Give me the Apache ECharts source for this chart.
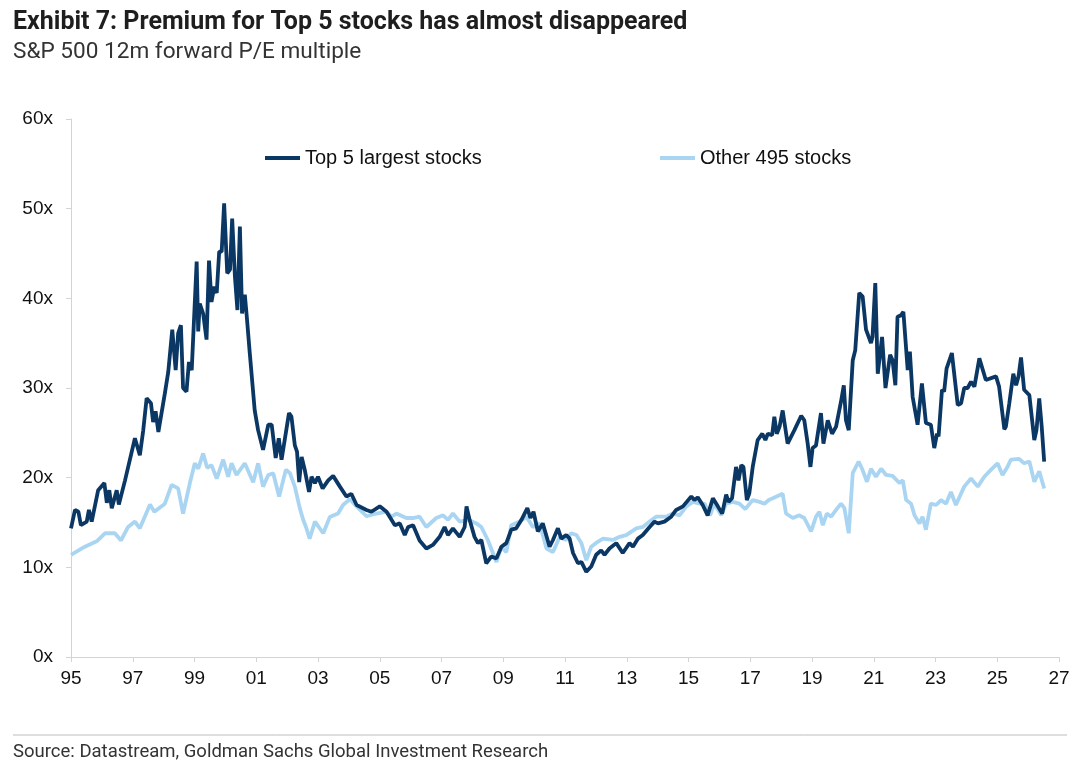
<!DOCTYPE html>
<html>
<head>
<meta charset="utf-8">
<script src="https://cdn.jsdelivr.net/npm/echarts@6/dist/echarts.min.js"></script>
<style>
  html, body { margin: 0; padding: 0; background: #ffffff; }
  #chart { width: 1080px; height: 772px; }
</style>
</head>
<body>
<div id="chart"></div>
<script>
// Dates as decimal years
const top5Dates = [1995.00,1995.13,1995.24,1995.32,1995.51,1995.58,1995.67,1995.88,1996.08,1996.16,1996.24,1996.32,1996.48,1996.55,1996.75,1997.07,1997.23,1997.34,1997.45,1997.59,1997.66,1997.74,1997.83,1998.04,1998.15,1998.28,1998.39,1998.47,1998.56,1998.63,1998.74,1998.82,1998.91,1999.07,1999.12,1999.17,1999.28,1999.39,1999.47,1999.55,1999.64,1999.72,1999.80,1999.88,1999.96,2000.06,2000.15,2000.22,2000.31,2000.39,2000.47,2000.54,2000.63,2000.69,2000.79,2000.95,2001.06,2001.22,2001.39,2001.50,2001.63,2001.73,2001.82,2002.06,2002.14,2002.25,2002.32,2002.39,2002.47,2002.57,2002.63,2002.71,2002.79,2002.90,2003.00,2003.15,2003.33,2003.49,2003.71,2003.92,2004.08,2004.25,2004.57,2004.73,2005.00,2005.22,2005.49,2005.65,2005.81,2005.92,2006.08,2006.29,2006.51,2006.72,2006.94,2007.10,2007.21,2007.37,2007.59,2007.75,2007.81,2007.91,2008.07,2008.18,2008.29,2008.45,2008.61,2008.78,2008.94,2009.10,2009.26,2009.42,2009.59,2009.78,2009.88,2009.98,2010.12,2010.28,2010.50,2010.61,2010.77,2010.88,2011.04,2011.15,2011.26,2011.42,2011.53,2011.69,2011.85,2012.01,2012.17,2012.28,2012.44,2012.66,2012.87,2013.09,2013.20,2013.36,2013.52,2013.74,2013.90,2014.01,2014.22,2014.44,2014.60,2014.82,2015.09,2015.19,2015.30,2015.46,2015.62,2015.79,2015.95,2016.09,2016.22,2016.30,2016.41,2016.54,2016.62,2016.71,2016.78,2016.89,2016.97,2017.08,2017.24,2017.39,2017.49,2017.57,2017.71,2017.78,2017.86,2017.95,2018.05,2018.21,2018.43,2018.65,2018.75,2018.86,2018.95,2019.02,2019.13,2019.29,2019.37,2019.51,2019.65,2019.78,2019.94,2020.03,2020.10,2020.19,2020.32,2020.40,2020.53,2020.64,2020.75,2020.91,2020.96,2021.05,2021.13,2021.27,2021.38,2021.53,2021.61,2021.70,2021.77,2021.88,2021.96,2022.10,2022.17,2022.26,2022.42,2022.56,2022.69,2022.85,2022.96,2023.05,2023.10,2023.21,2023.28,2023.36,2023.53,2023.72,2023.83,2023.93,2024.04,2024.15,2024.26,2024.42,2024.63,2024.96,2025.06,2025.23,2025.28,2025.39,2025.52,2025.61,2025.69,2025.77,2025.87,2026.04,2026.20,2026.27,2026.36,2026.44,2026.52];
const top5Values = [14.35,16.4,16.2,14.7,15.1,16.4,15.1,18.6,19.4,17.2,18.6,16.6,18.6,17.0,19.7,24.4,22.5,25.3,28.85,28.3,26.2,27.4,25.1,29.4,31.8,36.5,32.0,36.1,37.0,30.0,29.6,32.9,32.0,44.1,36.3,39.4,38.3,35.4,44.2,39.6,41.3,40.6,45.2,45.2,50.6,42.8,43.2,48.9,42.4,38.7,48.0,38.3,40.4,38.1,33.9,27.5,25.3,23.1,25.9,25.9,22.2,24.4,22.0,27.2,26.8,23.6,22.9,19.5,22.3,20.9,20.9,18.4,20.1,19.4,20.1,18.8,19.7,20.2,19.0,17.9,18.2,16.95,16.4,16.2,16.8,16.2,14.7,14.9,13.6,14.5,14.7,13.0,12.1,12.5,13.4,14.5,13.6,14.35,13.4,14.5,16.8,15.3,13.4,12.7,13.05,10.45,11.2,11.0,12.3,12.7,14.2,14.35,15.3,16.6,15.5,16.2,14.0,14.9,12.3,13.05,14.35,13.2,13.6,13.2,11.6,10.45,10.6,9.5,10.1,11.4,11.9,11.4,12.1,12.7,11.6,12.7,12.3,13.2,13.6,14.5,15.1,14.9,15.1,15.65,16.4,16.8,17.9,17.5,17.8,16.95,15.8,17.7,16.8,16.0,18.1,17.3,17.7,21.2,19.7,21.4,21.2,17.5,18.25,21.2,24.2,24.9,24.2,24.9,24.75,26.8,24.9,25.7,27.5,23.8,25.3,26.9,26.4,23.8,21.2,23.3,23.6,27.2,23.8,26.4,24.9,25.7,28.5,30.3,26.4,25.3,33.1,34.2,40.6,40.2,36.5,35.0,35.7,41.7,31.6,35.7,30.0,33.7,33.1,30.3,37.95,38.1,38.5,32.0,34.05,29.0,25.9,30.5,26.1,25.9,23.3,24.9,24.6,29.8,29.6,32.2,33.9,28.1,28.3,30.0,30.0,30.7,30.15,33.3,30.9,31.3,30.15,25.4,25.7,28.3,31.6,30.3,31.3,33.4,29.8,29.2,24.2,25.3,28.85,25.7,21.8];

const otherDates = [1995.00,1995.45,1995.83,1996.10,1996.42,1996.62,1996.85,1997.07,1997.23,1997.56,1997.70,1998.04,1998.26,1998.47,1998.63,1998.85,1999.01,1999.12,1999.28,1999.41,1999.55,1999.72,1999.93,2000.09,2000.20,2000.36,2000.63,2000.90,2001.06,2001.22,2001.39,2001.55,2001.74,2001.96,2002.09,2002.25,2002.41,2002.52,2002.61,2002.73,2002.90,2003.17,2003.38,2003.65,2003.81,2004.03,2004.25,2004.57,2004.89,2005.22,2005.38,2005.54,2005.86,2006.08,2006.29,2006.51,2006.83,2007.05,2007.21,2007.37,2007.59,2007.86,2008.13,2008.29,2008.50,2008.78,2008.94,2009.10,2009.26,2009.53,2009.75,2009.96,2010.18,2010.40,2010.61,2010.83,2011.04,2011.20,2011.37,2011.53,2011.69,2011.85,2012.06,2012.23,2012.55,2012.77,2012.98,2013.31,2013.52,2013.74,2013.95,2014.28,2014.49,2014.71,2014.93,2015.14,2015.36,2015.52,2015.70,2015.84,2016.06,2016.22,2016.43,2016.65,2016.84,2017.08,2017.30,2017.46,2017.60,2017.73,2018.05,2018.16,2018.38,2018.59,2018.75,2018.97,2019.13,2019.24,2019.35,2019.48,2019.62,2019.78,2019.94,2020.05,2020.19,2020.32,2020.51,2020.62,2020.78,2020.91,2021.07,2021.24,2021.40,2021.61,2021.83,2021.94,2022.05,2022.21,2022.32,2022.48,2022.58,2022.69,2022.85,2023.02,2023.18,2023.34,2023.50,2023.66,2023.93,2024.15,2024.37,2024.58,2024.80,2025.01,2025.17,2025.33,2025.44,2025.71,2025.87,2026.04,2026.20,2026.36,2026.52];
const otherValues = [11.4,12.3,12.9,13.8,13.8,13.0,14.5,15.1,14.35,17.0,16.2,17.1,19.2,18.8,16.0,19.4,21.6,21.0,22.7,21.1,21.4,19.9,22.0,20.1,21.6,20.3,21.6,19.5,21.6,19.0,20.3,20.5,17.9,20.9,20.5,19.0,16.6,15.3,14.5,13.2,15.1,13.8,15.6,16.0,16.95,17.6,16.8,15.7,16.0,16.2,15.65,16.0,15.5,15.5,15.65,14.5,15.5,15.8,15.3,16.0,15.1,15.3,14.9,14.5,13.05,10.6,12.3,11.7,14.7,15.1,15.65,14.5,14.9,12.1,11.7,13.4,13.05,13.8,13.6,12.7,10.8,12.3,12.85,13.2,13.05,13.4,13.6,14.35,14.5,15.1,15.65,15.65,16.0,15.8,16.8,17.3,17.1,17.1,15.8,17.1,15.8,17.1,17.3,17.1,16.5,17.5,17.3,17.1,17.5,17.7,18.2,16.0,15.5,15.8,15.5,14.0,15.65,16.2,14.7,16.0,15.65,16.4,17.1,16.6,13.8,20.5,21.8,21.0,19.55,21.0,20.1,21.0,20.3,20.2,19.4,19.7,17.5,17.1,15.8,14.9,15.65,14.2,17.1,16.95,17.5,17.1,18.4,16.95,19.0,19.9,19.0,20.1,20.9,21.6,20.3,21.2,22.0,22.1,21.6,21.8,19.55,20.7,18.8];

const startYear = 1995;
const endYear = 2027;
const yTicks = [0, 10, 20, 30, 40, 50, 60];
const seriesNames = ['Top 5 largest stocks', 'Other 495 stocks'];
const colors = ['#0a3763', '#a9d5f2'];

function pairs(dates, vals) {
  return dates.map((d, i) => [d - startYear, vals[i]]);
}

const chart = echarts.init(document.getElementById('chart'), null, { renderer: 'canvas' });
const axisFont = 'Liberation Sans, Arial, sans-serif';

chart.setOption({
  backgroundColor: '#ffffff',
  animation: false,
  title: {
    text: 'Exhibit 7: Premium for Top 5 stocks has almost disappeared',
    subtext: 'S&P 500 12m forward P/E multiple',
    left: 13, top: 10, padding: 0,
    itemGap: 6,
    textStyle: { fontFamily: 'Roboto', fontWeight: 700, fontSize: 25, color: '#1e1e1e' },
    subtextStyle: { fontFamily: 'Roboto', fontWeight: 400, fontSize: 22.6, color: '#333333' }
  },
  legend: [
    { data: [seriesNames[0]], left: 265, top: 148, padding: 0, icon: 'rect', itemWidth: 35, itemHeight: 4,
      textStyle: { fontFamily: axisFont, fontSize: 20, color: '#111' } },
    { data: [seriesNames[1]], left: 660, top: 148, padding: 0, icon: 'rect', itemWidth: 35, itemHeight: 4,
      textStyle: { fontFamily: axisFont, fontSize: 20, color: '#111' } }
  ],
  grid: { left: 71, right: 21, top: 119, bottom: 115, containLabel: false },
  xAxis: {
    type: 'value',
    min: 0, max: endYear - startYear, interval: 2,
    axisLine: { show: true, lineStyle: { color: '#d4d4d4', width: 1 } },
    axisTick: { show: true, length: 5, lineStyle: { color: '#d4d4d4' } },
    splitLine: { show: false },
    axisLabel: {
      margin: 12,
      fontFamily: axisFont, fontSize: 19, color: '#111',
      formatter: v => String((v + startYear) % 100).padStart(2, '0')
    }
  },
  yAxis: {
    type: 'value',
    min: yTicks[0], max: yTicks[yTicks.length - 1], interval: 10,
    axisLine: { show: true, lineStyle: { color: '#d4d4d4', width: 1 } },
    axisTick: { show: true, length: 5, lineStyle: { color: '#d4d4d4' } },
    splitLine: { show: false },
    axisLabel: {
      margin: 18,
      fontFamily: axisFont, fontSize: 19, color: '#111',
      formatter: v => v + 'x'
    }
  },
  series: [
    { name: seriesNames[1], type: 'line', data: pairs(otherDates, otherValues),
      showSymbol: false, symbol: 'none', z: 2,
      lineStyle: { color: colors[1], width: 3.8 }, itemStyle: { color: colors[1] } },
    { name: seriesNames[0], type: 'line', data: pairs(top5Dates, top5Values),
      showSymbol: false, symbol: 'none', z: 3,
      lineStyle: { color: colors[0], width: 3.8 }, itemStyle: { color: colors[0] } }
  ],
  graphic: [
    { type: 'line', shape: { x1: 13, y1: 735, x2: 1067, y2: 735 }, style: { stroke: '#bdbdbd', lineWidth: 1 } },
    { type: 'text', left: 13, top: 743,
      style: { text: 'Source: Datastream, Goldman Sachs Global Investment Research',
        font: '400 18.5px Roboto', fill: '#333333' } }
  ]
});
</script>
</body>
</html>
